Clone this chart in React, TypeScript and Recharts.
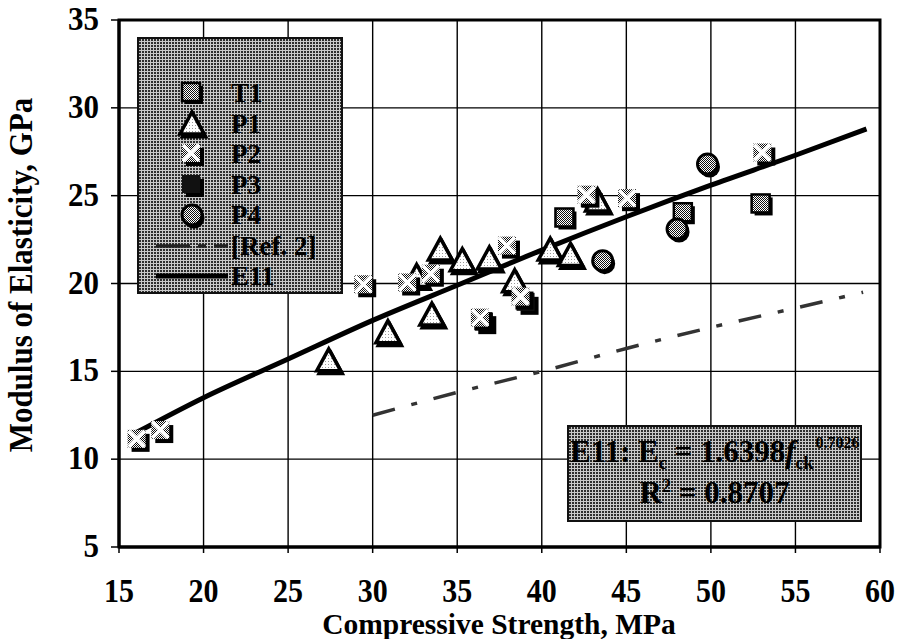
import React from 'react';
import {
  ComposedChart,
  Scatter,
  Line,
  XAxis,
  YAxis,
  CartesianGrid,
  ReferenceArea,
  Legend,
  Label
} from 'recharts';

const FONT = '"Liberation Serif", "Times New Roman", serif';

// axis ticks
const xTicks = [15, 20, 25, 30, 35, 40, 45, 50, 55, 60];
const yTicks = [5, 10, 15, 20, 25, 30, 35];

// measured points (compressive strength MPa, modulus GPa)
const t1Points = [
  { x: 41.4, y: 23.7 },
  { x: 48.4, y: 24.0 },
  { x: 53.0, y: 24.5 }
];
const p1Points = [
  { x: 27.4, y: 15.6 },
  { x: 30.9, y: 17.2 },
  { x: 32.6, y: 20.4 },
  { x: 33.5, y: 18.2 },
  { x: 34.0, y: 21.9 },
  { x: 35.3, y: 21.3 },
  { x: 36.9, y: 21.4 },
  { x: 38.4, y: 20.1 },
  { x: 40.5, y: 21.9 },
  { x: 41.7, y: 21.6 },
  { x: 43.3, y: 24.7 }
];
const p2Points = [
  { x: 16.1, y: 11.1 },
  { x: 17.5, y: 11.6 },
  { x: 29.5, y: 19.9 },
  { x: 32.1, y: 20.0 },
  { x: 33.5, y: 20.5 },
  { x: 36.4, y: 18.0 },
  { x: 38.0, y: 22.1 },
  { x: 38.8, y: 19.2 },
  { x: 42.7, y: 25.0 },
  { x: 45.1, y: 24.8 },
  { x: 53.1, y: 27.4 }
];
const p3Points = [
  { x: 36.6, y: 17.8 },
  { x: 39.1, y: 18.9 },
  { x: 42.9, y: 24.8 }
];
const p4Points = [
  { x: 43.6, y: 21.3 },
  { x: 48.0, y: 23.1 },
  { x: 49.8, y: 26.8 }
];

// curves
const e11Line = [
  { x: 16, y: 11.5 },
  { x: 20, y: 13.5 },
  { x: 25, y: 15.7 },
  { x: 30, y: 17.9 },
  { x: 35, y: 19.9 },
  { x: 40, y: 21.9 },
  { x: 45, y: 23.8 },
  { x: 50, y: 25.6 },
  { x: 55, y: 27.3 },
  { x: 59.2, y: 28.8 }
];
const ref2Line = [
  { x: 30, y: 12.5 },
  { x: 35, y: 13.8 },
  { x: 40, y: 15.0 },
  { x: 45, y: 16.3 },
  { x: 50, y: 17.5 },
  { x: 55, y: 18.6 },
  { x: 59, y: 19.5 }
];

const stippleBox: React.CSSProperties = {
  backgroundColor: '#c9c9c9',
  backgroundImage: 'radial-gradient(circle at 1px 1px, #2e2e2e 0.75px, transparent 1.1px)',
  backgroundSize: '3px 3px',
  border: '2px solid #111',
  boxSizing: 'border-box'
};

// ---- marker shapes ----
const T1Shape = ({ cx, cy }: any) => (
  <g>
    <rect x={cx - 7} y={cy - 7} width={18} height={18} fill="#000" />
    <rect x={cx - 10} y={cy - 10} width={18} height={18} fill="url(#half)" stroke="#000" strokeWidth={2.5} />
  </g>
);

const P1Shape = ({ cx, cy }: any) => {
  const pts = (dx: number, dy: number) =>
    `${cx + dx},${cy - 12 + dy} ${cx + 12 + dx},${cy + 10 + dy} ${cx - 12 + dx},${cy + 10 + dy}`;
  return (
    <g>
      <polygon points={pts(2, 3)} fill="#000" stroke="#000" strokeWidth={3} />
      <polygon points={pts(0, 0)} fill="url(#light)" stroke="#000" strokeWidth={3.5} strokeLinejoin="miter" />
    </g>
  );
};

const P2Shape = ({ cx, cy }: any) => (
  <g>
    <rect x={cx - 6} y={cy - 6} width={18} height={18} fill="#000" />
    <rect x={cx - 10} y={cy - 10} width={18} height={18} fill="url(#half)" />
    <line x1={cx - 9} y1={cy - 9} x2={cx + 7} y2={cy + 7} stroke="#fff" strokeWidth={3.5} />
    <line x1={cx + 7} y1={cy - 9} x2={cx - 9} y2={cy + 7} stroke="#fff" strokeWidth={3.5} />
  </g>
);

const P3Shape = ({ cx, cy }: any) => (
  <g>
    <rect x={cx - 6} y={cy - 6} width={18} height={18} fill="#000" />
    <rect x={cx - 10} y={cy - 10} width={18} height={18} fill="#111" />
  </g>
);

const P4Shape = ({ cx, cy }: any) => (
  <g>
    <circle cx={cx + 2} cy={cy + 3} r={10.5} fill="#000" />
    <circle cx={cx} cy={cy} r={10} fill="url(#half)" stroke="#000" strokeWidth={3} />
  </g>
);

// ---- ticks ----
const XTick = ({ x, y, payload }: any) => (
  <text
    transform={`translate(${x}, ${y + 47}) scale(1, 1.12)`}
    textAnchor="middle"
    fontFamily={FONT}
    fontWeight="bold"
    fontSize={30}
    fill="#000"
  >
    {payload.value}
  </text>
);

const YTick = ({ x, y, payload }: any) => (
  <text
    transform={`translate(${x - 10}, ${y + 10}) scale(1, 1.12)`}
    textAnchor="end"
    fontFamily={FONT}
    fontWeight="bold"
    fontSize={31}
    fill="#000"
  >
    {payload.value}
  </text>
);

// ---- legend ----
const legendRows = [
  { name: 'T1', kind: 't1' },
  { name: 'P1', kind: 'p1' },
  { name: 'P2', kind: 'p2' },
  { name: 'P3', kind: 'p3' },
  { name: 'P4', kind: 'p4' },
  { name: '[Ref. 2]', kind: 'ref' },
  { name: 'E11', kind: 'e11' }
];

const LegendIcon = ({ kind }: { kind: string }) => {
  const c = { cx: 40, cy: 15 };
  let icon: React.ReactNode = null;
  if (kind === 't1') icon = <T1Shape {...c} />;
  if (kind === 'p1') icon = <P1Shape {...c} />;
  if (kind === 'p2') icon = <P2Shape {...c} />;
  if (kind === 'p3') icon = <P3Shape {...c} />;
  if (kind === 'p4') icon = <P4Shape {...c} />;
  if (kind === 'ref')
    icon = <line x1={4} y1={15} x2={76} y2={15} stroke="#222" strokeWidth={3.5} strokeDasharray="34 8 8 8" />;
  if (kind === 'e11') icon = <line x1={4} y1={15} x2={76} y2={15} stroke="#000" strokeWidth={5} />;
  return (
    <svg width={80} height={30} style={{ position: 'absolute', left: 13, top: 0, overflow: 'visible' }}>
      {icon}
    </svg>
  );
};

const renderLegend = () => (
  <div style={{ ...stippleBox, width: 206, height: 257, position: 'relative' }}>
    {legendRows.map((r, i) => (
      <div key={r.name} style={{ position: 'absolute', left: 0, top: 39 + i * 30.5, height: 30, width: 200 }}>
        <LegendIcon kind={r.kind} />
        <span
          style={{
            position: 'absolute',
            left: 92,
            top: 0,
            fontFamily: FONT,
            fontWeight: 'bold',
            fontSize: 27,
            lineHeight: '30px',
            color: '#000',
            whiteSpace: 'nowrap'
          }}
        >
          {r.name}
        </span>
      </div>
    ))}
  </div>
);

const eqText: React.CSSProperties = {
  position: 'absolute',
  fontFamily: FONT,
  fontWeight: 'bold',
  fontSize: 31,
  lineHeight: '30px',
  whiteSpace: 'nowrap',
  color: '#000'
};

export default function App() {
  return (
    <div style={{ position: 'absolute', left: 0, top: 0, width: 898, height: 639, background: '#fff' }}>
      <svg width={0} height={0} style={{ position: 'absolute' }}>
        <defs>
          <pattern id="half" width={2} height={2} patternUnits="userSpaceOnUse">
            <rect width={2} height={2} fill="#fff" />
            <rect x={0} y={0} width={1} height={1} fill="#111" />
            <rect x={1} y={1} width={1} height={1} fill="#111" />
          </pattern>
          <pattern id="light" width={3} height={3} patternUnits="userSpaceOnUse">
            <rect width={3} height={3} fill="#fff" />
            <rect x={1} y={1} width={1} height={1} fill="#999" />
          </pattern>
        </defs>
      </svg>
      <ComposedChart width={898} height={639} margin={{ top: 20, right: 18, bottom: 52, left: 49 }}>
        <CartesianGrid stroke="#000" strokeWidth={1.4} />
        <XAxis
          type="number"
          dataKey="x"
          domain={[15, 60]}
          ticks={xTicks}
          allowDataOverflow
          height={40}
          axisLine={{ stroke: '#000', strokeWidth: 3 }}
          tickLine={{ stroke: '#000', strokeWidth: 1.5 }}
          tickSize={6}
          tick={<XTick />}
          interval={0}
        >
          <Label
            content={() => (
              <text
                x={499}
                y={634}
                textAnchor="middle"
                fontFamily={FONT}
                fontWeight="bold"
                fontSize={29.5}
                fill="#000"
              >
                Compressive Strength, MPa
              </text>
            )}
          />
        </XAxis>
        <YAxis
          type="number"
          dataKey="y"
          domain={[5, 35]}
          ticks={yTicks}
          allowDataOverflow
          width={70}
          axisLine={{ stroke: '#000', strokeWidth: 3 }}
          tickLine={{ stroke: '#000', strokeWidth: 1.5 }}
          tickSize={8}
          tick={<YTick />}
          interval={0}
        >
          <Label
            content={() => (
              <text
                transform="translate(32, 275) rotate(-90) scale(1, 1.1)"
                textAnchor="middle"
                fontFamily={FONT}
                fontWeight="bold"
                fontSize={31}
                fill="#000"
              >
                Modulus of Elasticity, GPa
              </text>
            )}
          />
        </YAxis>
        <ReferenceArea x1={15} x2={60} y1={5} y2={35} fill="none" stroke="#000" strokeWidth={3} />
        <Scatter name="P3" data={p3Points} shape={<P3Shape />} isAnimationActive={false} />
        <Scatter name="T1" data={t1Points} shape={<T1Shape />} isAnimationActive={false} />
        <Scatter name="P1" data={p1Points} shape={<P1Shape />} isAnimationActive={false} />
        <Scatter name="P2" data={p2Points} shape={<P2Shape />} isAnimationActive={false} />
        <Scatter name="P4" data={p4Points} shape={<P4Shape />} isAnimationActive={false} />
        <Line
          data={ref2Line}
          dataKey="y"
          type="monotone"
          stroke="#333"
          strokeWidth={3.5}
          strokeDasharray="23 17 6 17"
          dot={false}
          isAnimationActive={false}
        />
        <Line
          data={e11Line}
          dataKey="y"
          type="monotone"
          stroke="#000"
          strokeWidth={5}
          dot={false}
          isAnimationActive={false}
        />
        <Legend
          layout="horizontal"
          verticalAlign="middle"
          align="center"
          content={renderLegend}
          wrapperStyle={{ position: 'absolute', left: 137, top: 37, width: 206, height: 257 }}
        />
      </ComposedChart>
      <div style={{ ...stippleBox, position: 'absolute', left: 567, top: 425, width: 295, height: 97 }}>
        <div style={{ ...eqText, left: 1, top: 10 }}>
          E11: E<span style={{ fontSize: 18, position: 'relative', top: 7 }}>c</span> = 1.6398
          <i>f</i>
          <span style={{ fontSize: 18, position: 'relative', top: 7 }}>ck</span>
          <span style={{ fontSize: 16, position: 'relative', top: -14, marginLeft: 2 }}>0.7026</span>
        </div>
        <div style={{ ...eqText, left: 0, width: '100%', top: 51, textAlign: 'center' }}>
          R<span style={{ fontSize: 18, position: 'relative', top: -11 }}>2</span> = 0.8707
        </div>
      </div>
    </div>
  );
}
